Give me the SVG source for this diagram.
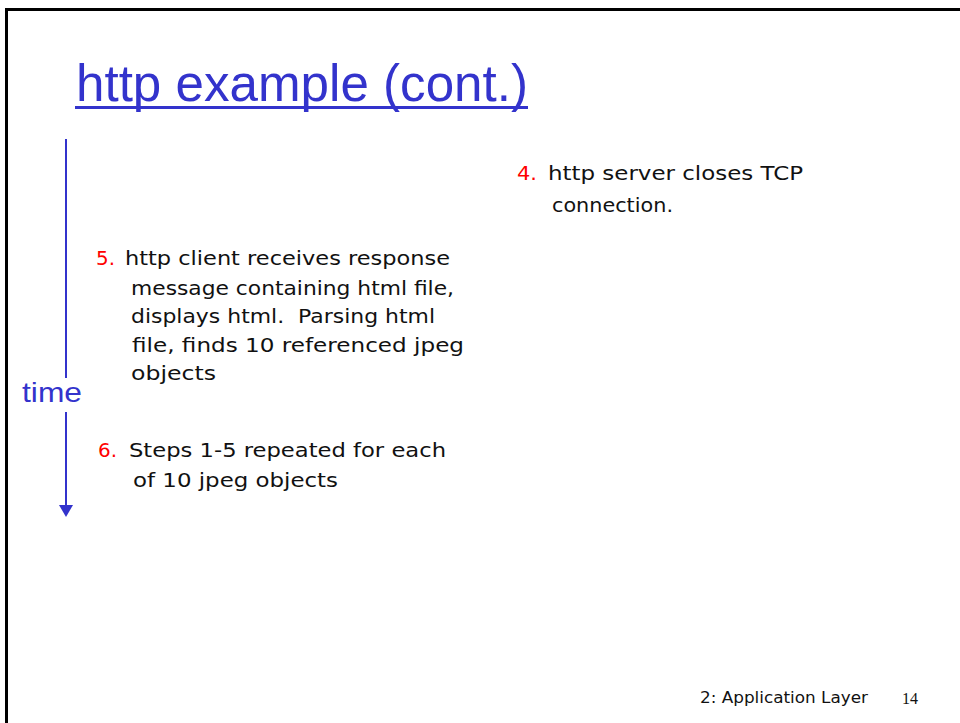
<svg xmlns="http://www.w3.org/2000/svg" width="960" height="723" viewBox="0 0 960 723">
<style>
.body{font-family:"DejaVu Sans","Liberation Sans",sans-serif;font-size:20px;fill:#111;white-space:pre}
.num{font-family:"DejaVu Sans","Liberation Sans",sans-serif;font-size:20px;fill:#ff0000}
.blue{fill:#3333cc;font-family:"Liberation Sans","DejaVu Sans",sans-serif}
</style>
<rect x="0" y="0" width="960" height="723" fill="#fff"/>
<path d="M6.5,735 V9.5 H975" fill="none" stroke="#000" stroke-width="3"/>
<g id="title">
<text class="blue" x="76" y="101" font-size="52" textLength="452" lengthAdjust="spacingAndGlyphs">http example (cont.)</text>
<line x1="75" y1="107.5" x2="528" y2="107.5" stroke="#3333cc" stroke-width="3"/>
</g>
<g id="connectors">
<line x1="66" y1="139" x2="66" y2="378" stroke="#3333cc" stroke-width="2"/>
<line x1="66" y1="412" x2="66" y2="506" stroke="#3333cc" stroke-width="2"/>
<path d="M59,505 L73,505 L66,517 Z" fill="#3333cc"/>
</g>
<g id="time-label">
<text class="blue" x="22" y="402" font-size="28" textLength="60" lengthAdjust="spacingAndGlyphs">time</text>
</g>
<g id="step4">
<text class="num" x="517" y="180" textLength="20" lengthAdjust="spacingAndGlyphs">4.</text>
<text class="body" x="548" y="180" textLength="255" lengthAdjust="spacingAndGlyphs">http server closes TCP</text>
<text class="body" x="552" y="212" textLength="121" lengthAdjust="spacingAndGlyphs">connection.</text>
</g>
<g id="step5">
<text class="num" x="96" y="265" textLength="19" lengthAdjust="spacingAndGlyphs">5.</text>
<text class="body" x="125" y="265" textLength="325" lengthAdjust="spacingAndGlyphs">http client receives response</text>
<text class="body" x="131" y="295" textLength="323" lengthAdjust="spacingAndGlyphs">message containing html file,</text>
<text class="body" x="131" y="323" textLength="304" lengthAdjust="spacingAndGlyphs" xml:space="preserve">displays html.  Parsing html</text>
<text class="body" x="132" y="352" textLength="332" lengthAdjust="spacingAndGlyphs">file, finds 10 referenced jpeg</text>
<text class="body" x="131" y="380" textLength="85" lengthAdjust="spacingAndGlyphs">objects</text>
</g>
<g id="step6">
<text class="num" x="98" y="457" textLength="19" lengthAdjust="spacingAndGlyphs">6.</text>
<text class="body" x="129" y="457" textLength="317" lengthAdjust="spacingAndGlyphs">Steps 1-5 repeated for each</text>
<text class="body" x="133" y="487" textLength="205" lengthAdjust="spacingAndGlyphs">of 10 jpeg objects</text>
</g>
<g id="footer">
<text class="body" x="700" y="703" style="font-size:16px" textLength="168" lengthAdjust="spacingAndGlyphs">2: Application Layer</text>
<text x="902" y="704" font-family="'Liberation Serif',serif" font-size="16" fill="#111">14</text>
</g>
</svg>
